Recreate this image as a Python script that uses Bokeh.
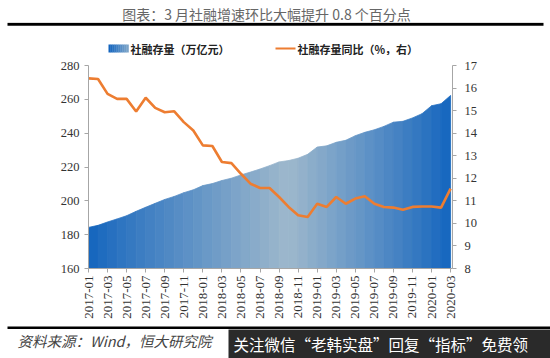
import math
from bokeh.plotting import figure
from bokeh.layouts import column
from bokeh.models import Range1d, LinearAxis, FixedTicker
from bokeh.core.properties import value
from bokeh.embed import file_html
from bokeh.resources import INLINE

months = ["2017-01", "2017-02", "2017-03", "2017-04", "2017-05", "2017-06",
          "2017-07", "2017-08", "2017-09", "2017-10", "2017-11", "2017-12",
          "2018-01", "2018-02", "2018-03", "2018-04", "2018-05", "2018-06",
          "2018-07", "2018-08", "2018-09", "2018-10", "2018-11", "2018-12",
          "2019-01", "2019-02", "2019-03", "2019-04", "2019-05", "2019-06",
          "2019-07", "2019-08", "2019-09", "2019-10", "2019-11", "2019-12",
          "2020-01", "2020-02", "2020-03"]

stock = [184.3, 185.5, 187.5, 189.3, 191.2, 193.8, 196.2, 198.5, 200.8, 202.6,
         204.8, 206.5, 209.0, 210.2, 212.0, 213.4, 215.3, 217.0, 218.8, 220.8,
         223.0, 223.8, 225.2, 227.5, 231.8, 232.5, 234.6, 235.8, 238.5, 240.5,
         242.0, 244.0, 246.5, 247.0, 249.0, 251.5, 256.2, 257.4, 262.3]

growth = [16.43, 16.40, 15.74, 15.52, 15.52, 14.96, 15.57, 15.12, 14.93, 14.97,
          14.49, 14.12, 13.46, 13.43, 12.72, 12.67, 12.20, 11.76, 11.57, 11.57,
          11.17, 10.73, 10.36, 10.28, 10.87, 10.73, 11.17, 10.87, 11.10, 11.20,
          10.87, 10.73, 10.70, 10.60, 10.73, 10.75, 10.75, 10.70, 11.54]

left_ticks = [160, 180, 200, 220, 240, 260, 280]
right_ticks = [8, 9, 10, 11, 12, 13, 14, 15, 16, 17]

title_text = "图表：3 月社融增速环比大幅提升 0.8 个百分点"
legend_area = "社融存量（万亿元）"
legend_line = "社融存量同比（%，右）"
source_text = "资料来源：Wind，恒大研究院"
watermark_text = "关注微信“老韩实盘”回复“指标”免费领"

W = 550
TITLE_H, LEG_H, MAIN_H, BOT_H = 22, 33, 269, 34
cjk = "Noto Sans CJK SC"
n = len(months)

# gradient fill (dark blue -> light grey-blue -> dark blue)
dark = (18, 100, 190)
light = (158, 184, 204)
peak = 21.0


def mix(f):
    f = max(0.0, min(1.0, f))
    c = tuple(int(round(dark[k] + (light[k] - dark[k]) * f)) for k in range(3))
    return "#%02x%02x%02x" % c


def grad(t):
    if t <= peak:
        f = t / peak
    else:
        f = (n - 1 - t) / (n - 1 - peak)
    return mix(f ** 0.9)


def blank(h):
    f = figure(width=W, height=h, output_backend="svg", toolbar_location=None,
               x_range=Range1d(0, W), y_range=Range1d(h, 0),
               min_border=0, min_border_left=0, min_border_right=0,
               min_border_top=0, min_border_bottom=0,
               outline_line_color=None, background_fill_color="white",
               border_fill_color="white", frame_align=False)
    f.axis.visible = False
    f.grid.visible = False
    return f


# ---- title
ttl = blank(TITLE_H)
ttl.text(x=[266], y=[13], text=[title_text], text_font=value(cjk),
         text_font_size="14px", text_color="#666666", text_align="center",
         text_baseline="middle")

# ---- thick rule + legend
leg = blank(LEG_H)
leg.quad(left=[7], right=[543], top=[0.3], bottom=[3.3], fill_color="black",
         line_color=None)
steps = 10
for k in range(steps):
    leg.quad(left=[108 + 2 * k], right=[110.3 + 2 * k], top=[22], bottom=[30],
             fill_color=mix(k / (steps - 1) * 0.75), line_color=None)
leg.text(x=[130], y=[26], text=[legend_area], text_font=value(cjk),
         text_font_size="11px", text_color="#222222", text_baseline="middle",
         text_font_style="bold")
leg.line(x=[275, 295], y=[26, 26], line_color="#ED7D31", line_width=2.2)
leg.text(x=[297], y=[26], text=[legend_line], text_font=value(cjk),
         text_font_size="11px", text_color="#222222", text_baseline="middle",
         text_font_style="bold")

# ---- main chart
p = figure(width=W, height=MAIN_H, output_backend="svg", toolbar_location=None,
           x_range=Range1d(0, n - 0.8), y_range=Range1d(160, 280),
           min_border_left=88, min_border_right=98, min_border_top=10,
           min_border_bottom=56, background_fill_color="white",
           border_fill_color="white", outline_line_color=None,
           frame_align=False)
p.extra_y_ranges = {"right": Range1d(8, 17)}
p.xgrid.visible = False
p.ygrid.visible = False

for i in range(n - 1):
    c = grad(i + 0.5)
    p.patch(x=[i, i + 1, i + 1, i], y=[160, 160, stock[i + 1], stock[i]],
            fill_color=c, line_color=c, line_width=0.8)

p.line(list(range(n)), growth, y_range_name="right",
       line_color="#ED7D31", line_width=2.6)

ax_color = "#a6a6a6"
lab_font = "Liberation Serif"
xa = p.xaxis[0]
xa.ticker = FixedTicker(ticks=list(range(0, n, 2)))
xa.major_label_overrides = {i: months[i] for i in range(0, n, 2)}
xa.major_label_orientation = math.pi / 2
xa.major_label_text_font = lab_font
xa.major_label_text_font_size = "13px"
xa.major_label_text_color = "#333333"
xa.axis_line_color = ax_color
xa.major_tick_line_color = ax_color
xa.major_tick_out = 4
xa.major_tick_in = 0
xa.minor_tick_line_color = None
xa.major_label_standoff = 3

ya = p.yaxis[0]
ya.ticker = FixedTicker(ticks=left_ticks)
ya.major_label_text_font = lab_font
ya.major_label_text_font_size = "12.5px"
ya.major_label_text_color = "#333333"
ya.axis_line_color = ax_color
ya.major_tick_line_color = ax_color
ya.major_tick_out = 4
ya.major_tick_in = 0
ya.minor_tick_line_color = None
ya.major_label_standoff = 5

ra = LinearAxis(y_range_name="right", ticker=FixedTicker(ticks=right_ticks))
ra.major_label_text_font = lab_font
ra.major_label_text_font_size = "12.5px"
ra.major_label_text_color = "#333333"
ra.axis_line_color = ax_color
ra.major_tick_line_color = ax_color
ra.major_tick_out = 4
ra.major_tick_in = 0
ra.minor_tick_line_color = None
ra.major_label_standoff = 8
p.add_layout(ra, "right")

# ---- bottom: rule, source, watermark
bot = blank(BOT_H)
bot.segment(x0=[7], y0=[3.3], x1=[W], y1=[3.3], line_color="black",
            line_width=2.6)
bot.text(x=[17], y=[16], text=[source_text], text_font=value(cjk),
         text_font_size="14.5px", text_font_style="italic",
         text_color="#444444", text_baseline="middle")
bot.quad(left=[228], right=[W], top=[5], bottom=[BOT_H], fill_color="#2a2a2a",
         line_color=None)
bot.text(x=[233], y=[19.5], text=[watermark_text], text_font=value(cjk),
         text_font_size="15.5px", text_color="white", text_baseline="middle")

layout = column(ttl, leg, p, bot, spacing=0)
open("out.html", "w").write(file_html(layout, INLINE))
